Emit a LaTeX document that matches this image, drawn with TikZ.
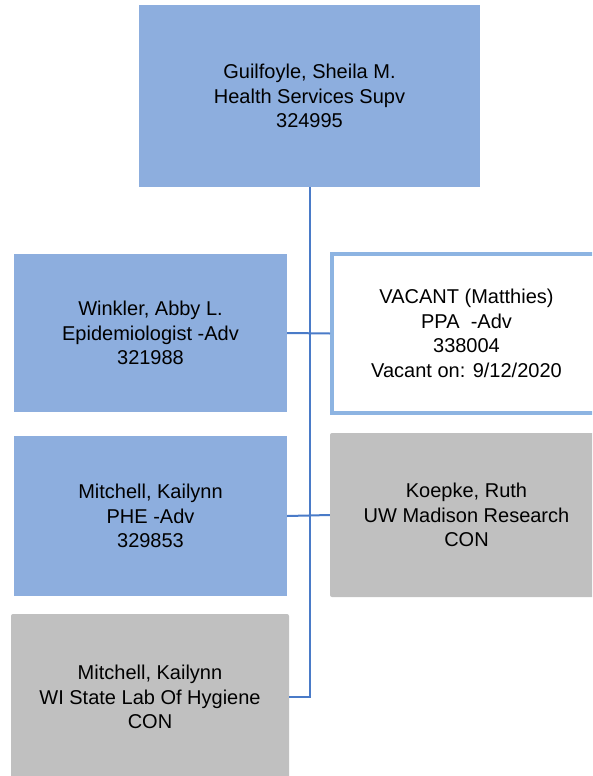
\documentclass[tikz,border=0pt]{standalone}
\usepackage{fontspec}
\setmainfont{Liberation Sans}
\usepackage{xcolor}
\definecolor{unitBlue}{HTML}{8DAEDE}
\definecolor{lineBlue}{HTML}{4A7BC8}
\definecolor{contractGray}{HTML}{C0C0C0}
\definecolor{vacantEdge}{HTML}{8DB4E2}
\usepackage{tikz}
\usetikzlibrary{positioning}
\tikzset{
    % Base style for all position boxes
    unit base/.style={
        font=\fontsize{20}{24.5}\selectfont,
        align=center,
        text=black,
        inner sep=0pt,
        rectangle,
    },
    % Filled position - soft blue
    position/.style={
        unit base,
        fill=unitBlue,
        minimum width=273pt,
        minimum height=158pt,
    },
    % Vacant position - white with blue frame
    vacant/.style={
        unit base,
        fill=white,
        draw=vacantEdge,
        line width=4pt,
        minimum width=269pt,
        minimum height=159pt,
    },
    % Contractor - gray
    contractor/.style={
        unit base,
        fill=contractGray,
        rounded corners=2pt,
        minimum width=273pt,
        minimum height=164pt,
    },
    % Reporting line
    link/.style={
        draw=lineBlue,
        line width=2pt,
    },
}

\begin{document}
\begin{tikzpicture}[x=1pt, y=-1pt]
    \useasboundingbox (0,0) rectangle (592,776);
    \clip (0,0) rectangle (592,776);

    \node (supv) [position, minimum width=341pt, minimum height=182pt] at (309.5,96)
        {Guilfoyle, Sheila M.\\Health Services Supv\\324995};
    \node (winkler) [position] at (150.5,333)
        {Winkler, Abby L.\\Epidemiologist -Adv\\321988};
    \node (vacancy) [vacant] at (466.5,333.5)
        {VACANT (Matthies)\\PPA\ \ -Adv\\338004\\Vacant on: 9/12/2020};
    \node (mitchell) [position, minimum height=160pt] at (150.5,516)
        {Mitchell, Kailynn\\PHE -Adv\\329853};
    \node (koepke) [contractor] at (466.5,515)
        {Koepke, Ruth\\UW Madison Research\\CON};
    \node (wslh) [contractor, minimum width=278pt, minimum height=166pt] at (150,697)
        {Mitchell, Kailynn\\WI State Lab Of Hygiene\\CON};

    \draw [link] (supv.south) -- (supv.south |- wslh.east) -- (wslh.east);
    \draw [link] (winkler.east) -- (vacancy.west);
    \draw [link] (mitchell.east) -- (koepke.west);
\end{tikzpicture}
\end{document}
